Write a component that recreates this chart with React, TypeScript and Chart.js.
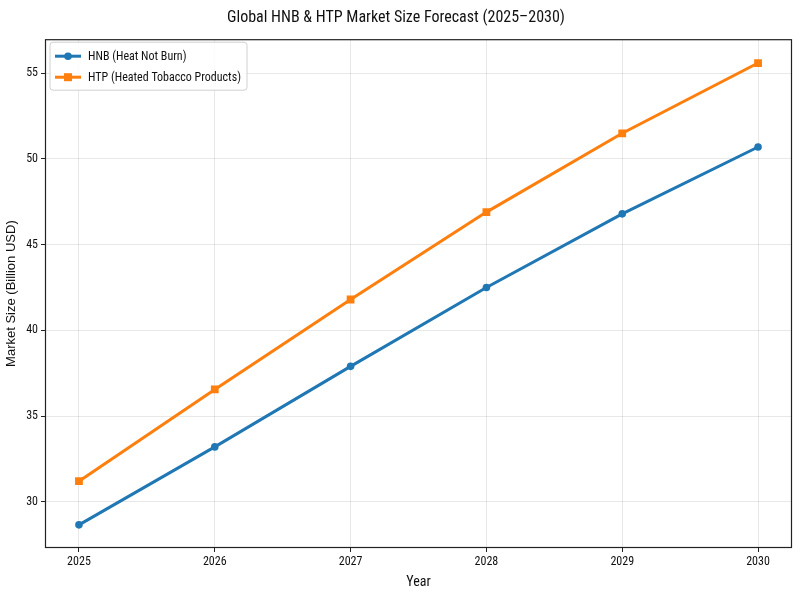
import { useEffect, useRef } from 'react';
import { Chart, registerables, type Plugin } from 'chart.js';

Chart.register(...registerables);

const years = [2025, 2026, 2027, 2028, 2029, 2030];
const hnbValues = [28.65, 33.2, 37.9, 42.5, 46.8, 50.7];
const htpValues = [31.2, 36.55, 41.8, 46.9, 51.5, 55.6];
const yTicks = [30, 35, 40, 45, 50, 55];

const NARROW = "'Liberation Sans Narrow', 'Roboto Condensed', 'Liberation Sans', sans-serif";
const BLUE = '#1f77b4';
const ORANGE = '#ff7f0e';

// matplotlib-style frame + legend inside the axes
const framePlugin: Plugin<'line'> = {
  id: 'frame',
  afterDraw(chart) {
    const { ctx, chartArea: a } = chart;
    ctx.save();
    ctx.strokeStyle = '#222';
    ctx.lineWidth = 1.2;
    ctx.strokeRect(a.left + 0.5, a.top + 0.5, a.right - a.left - 1, a.bottom - a.top - 1);

    // legend box
    const bx = a.left + 5;
    const by = a.top + 3;
    const bw = 197;
    const bh = 48;
    ctx.fillStyle = 'rgba(255,255,255,0.85)';
    ctx.strokeStyle = '#d0d0d0';
    ctx.lineWidth = 1;
    ctx.beginPath();
    ctx.roundRect(bx, by, bw, bh, 3);
    ctx.fill();
    ctx.stroke();

    chart.data.datasets.forEach((ds, i) => {
      const cy = by + 14 + i * 21;
      const color = ds.borderColor as string;
      ctx.strokeStyle = color;
      ctx.lineWidth = 3;
      ctx.beginPath();
      ctx.moveTo(bx + 5, cy);
      ctx.lineTo(bx + 31, cy);
      ctx.stroke();
      ctx.fillStyle = color;
      if (i === 0) {
        ctx.beginPath();
        ctx.arc(bx + 18, cy, 3.8, 0, Math.PI * 2);
        ctx.fill();
      } else {
        ctx.fillRect(bx + 14, cy - 4, 8, 8);
      }
      ctx.fillStyle = '#111';
      ctx.font = `12px ${NARROW}`;
      ctx.textBaseline = 'middle';
      ctx.fillText(ds.label ?? '', bx + 38, cy + 0.5);
    });
    ctx.restore();
  },
};

export default function App() {
  const canvasRef = useRef<HTMLCanvasElement>(null);

  useEffect(() => {
    document.body.style.margin = '0';
    if (!canvasRef.current) return;

    const chart = new Chart(canvasRef.current, {
      type: 'line',
      data: {
        datasets: [
          {
            label: 'HNB (Heat Not Burn)',
            data: years.map((x, i) => ({ x, y: hnbValues[i] })),
            borderColor: BLUE,
            backgroundColor: BLUE,
            borderWidth: 3,
            pointStyle: 'circle',
            pointRadius: 3.8,
            pointBorderWidth: 0,
          },
          {
            label: 'HTP (Heated Tobacco Products)',
            data: years.map((x, i) => ({ x, y: htpValues[i] })),
            borderColor: ORANGE,
            backgroundColor: ORANGE,
            borderWidth: 3,
            pointStyle: 'rect',
            pointRadius: 5.5,
            pointBorderWidth: 0,
          },
        ],
      },
      options: {
        animation: false,
        responsive: false,
        layout: { padding: { right: 8, left: 0 } },
        plugins: {
          legend: { display: false },
          tooltip: { enabled: false },
          title: {
            display: true,
            text: 'Global HNB & HTP Market Size Forecast (2025–2030)',
            color: '#111',
            font: { family: NARROW, size: 16, weight: 'normal' },
            padding: { top: 8, bottom: 12 },
          },
        },
        scales: {
          x: {
            type: 'linear',
            min: 2024.75,
            max: 2030.25,
            afterBuildTicks: (s) => {
              s.ticks = years.map((v) => ({ value: v }));
            },
            afterFit: (s) => {
              s.height = 52;
            },
            ticks: {
              color: '#111',
              font: { family: NARROW, size: 12 },
              callback: (v) => String(v),
              padding: 3,
            },
            grid: { color: 'rgba(0,0,0,0.09)', tickColor: '#222', tickLength: 4 },
            border: { display: false },
            title: {
              display: true,
              text: 'Year',
              color: '#111',
              font: { family: NARROW, size: 14 },
              padding: { top: 0, bottom: 9 },
            },
          },
          y: {
            type: 'linear',
            min: 27.3,
            max: 56.99,
            afterBuildTicks: (s) => {
              s.ticks = yTicks.map((v) => ({ value: v }));
            },
            afterFit: (s) => {
              s.width = 45;
            },
            ticks: {
              color: '#111',
              font: { family: NARROW, size: 12 },
              padding: 3,
            },
            grid: { color: 'rgba(0,0,0,0.09)', tickColor: '#222', tickLength: 4 },
            border: { display: false },
            title: {
              display: true,
              text: 'Market Size (Billion USD)',
              color: '#111',
              font: { family: "'Liberation Sans', Arial, sans-serif", size: 13 },
              padding: { bottom: 2 },
            },
          },
        },
      },
      plugins: [framePlugin],
    });

    return () => {
      chart.destroy();
    };
  }, []);

  return (
    <div style={{ width: 800, height: 600, background: '#fff' }}>
      <canvas ref={canvasRef} width={800} height={600} />
    </div>
  );
}
